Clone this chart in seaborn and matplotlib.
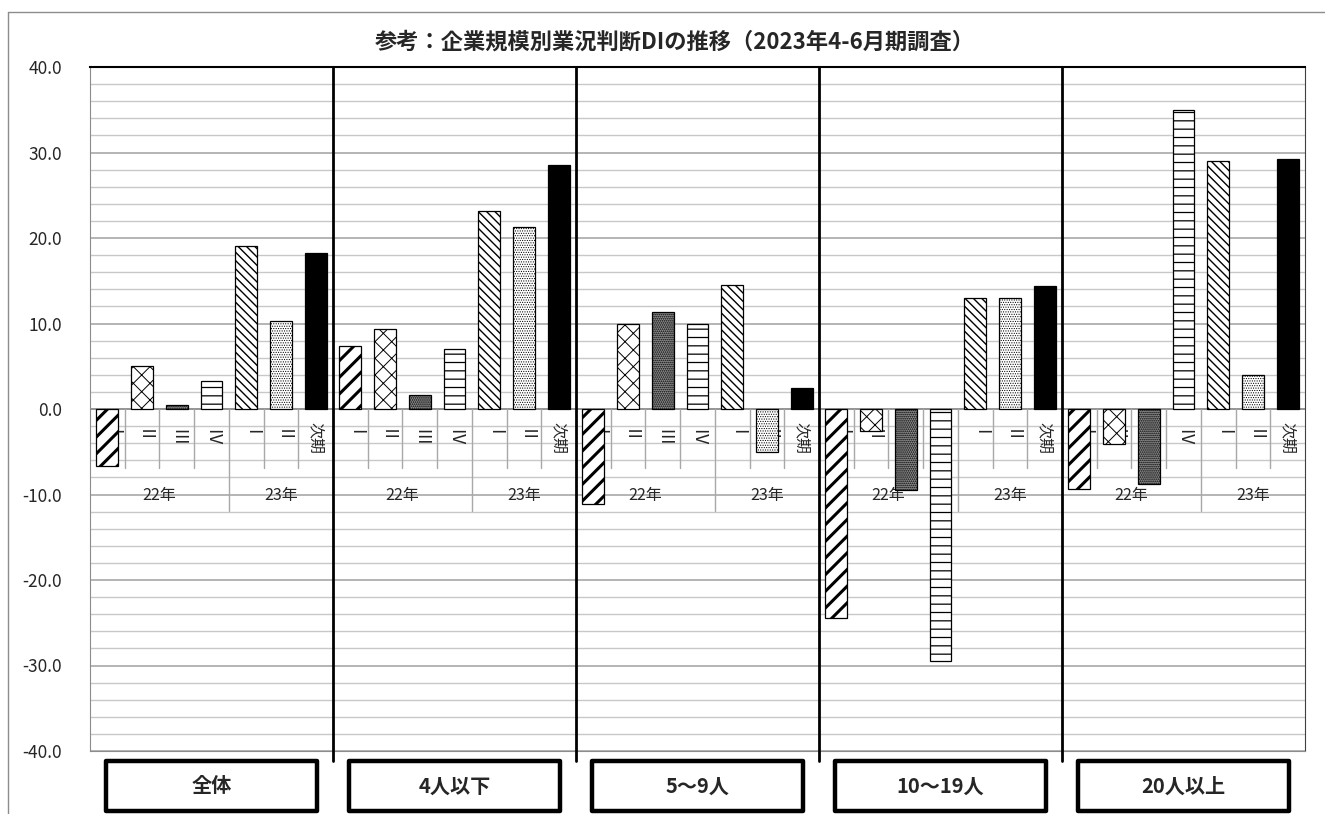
import numpy as np
import pandas as pd
import matplotlib.pyplot as plt
import seaborn as sns
from matplotlib.ticker import MultipleLocator, FuncFormatter
from matplotlib.patches import Rectangle
from matplotlib.lines import Line2D
from matplotlib.transforms import blended_transform_factory

# DATA
groups = ['全体', '4人以下', '5〜9人', '10〜19人', '20人以上']
periods = ['22Ⅰ', '22Ⅱ', '22Ⅲ', '22Ⅳ', '23Ⅰ', '23Ⅱ', '次期']
period_labels = ['Ⅰ', 'Ⅱ', 'Ⅲ', 'Ⅳ', 'Ⅰ', 'Ⅱ', '次期']
years = ['22年', '23年']

di_zentai = [-6.7, 5.0, 0.5, 3.3, 19.1, 10.3, 18.3]
di_4_ika = [7.4, 9.3, 1.6, 7.0, 23.2, 21.3, 28.5]
di_5_9 = [-11.1, 10.0, 11.3, 9.9, 14.5, -5.0, 2.5]
di_10_19 = [-24.5, -2.6, -9.5, -29.5, 13.0, 13.0, 14.4]
di_20_ijo = [-9.3, -4.1, -8.8, 35.0, 29.0, 4.0, 29.2]

all_di = [di_zentai, di_4_ika, di_5_9, di_10_19, di_20_ijo]

rows = []
for gi, g in enumerate(groups):
    for pi, p in enumerate(periods):
        rows.append({'group': g, 'period': p, 'pos': gi * len(periods) + pi, 'di': all_di[gi][pi]})
df = pd.DataFrame(rows)

# styles
face = {'22Ⅰ': 'white', '22Ⅱ': 'white', '22Ⅲ': '#8f8f8f', '22Ⅳ': 'white',
        '23Ⅰ': 'white', '23Ⅱ': 'white', '次期': 'black'}
hatch = {'22Ⅰ': '//', '22Ⅱ': 'xx', '22Ⅲ': '........', '22Ⅳ': '--',
         '23Ⅰ': '\\\\\\\\', '23Ⅱ': '.......', '次期': None}
hatch_lw = {'22Ⅰ': 2.2, '22Ⅱ': 0.7, '22Ⅲ': 0.8, '22Ⅳ': 0.9,
            '23Ⅰ': 1.0, '23Ⅱ': 0.5, '次期': 1.0}

W, H = 1325, 814
sns.set_style('white')
plt.rcParams['font.family'] = ['Noto Sans CJK JP', 'DejaVu Sans']
plt.rcParams['axes.unicode_minus'] = False

fig = plt.figure(figsize=(W / 100, H / 100), dpi=100)
ax = fig.add_axes([90 / W, 1 - 751 / H, (1305 - 90) / W, (751 - 67) / H])

sns.barplot(data=df, x='pos', y='di', hue='period', hue_order=periods, palette=face,
            dodge=False, width=0.63, edgecolor='black', linewidth=0.9, saturation=1,
            legend=False, ax=ax, zorder=3)

for cont, p in zip(ax.containers, periods):
    for bar in cont:
        if hatch[p]:
            bar.set_hatch(hatch[p])
        if hasattr(bar, 'set_hatch_linewidth'):
            bar.set_hatch_linewidth(hatch_lw[p])

n = len(periods)
ax.set_xlim(-0.5, len(groups) * n - 0.5)
ax.set_ylim(-40, 40)
ax.yaxis.set_major_locator(MultipleLocator(10))
ax.yaxis.set_minor_locator(MultipleLocator(2))
ax.yaxis.set_major_formatter(FuncFormatter(lambda v, _: f'{v:.1f}'))
ax.set_xticks([])
ax.set_xlabel('')
ax.set_ylabel('')
ax.tick_params(axis='y', which='major', length=6, color='#8c8c8c', pad=14, labelsize=12.5)
ax.tick_params(axis='y', which='minor', length=0)
ax.set_axisbelow(True)
ax.grid(which='minor', axis='y', color='#c8c8c8', lw=1)
ax.grid(which='major', axis='y', color='#a0a0a0', lw=1.1)
ax.axhline(0, color='#909090', lw=1.2, zorder=1)
for side in ['left', 'bottom']:
    ax.spines[side].set_color('#8c8c8c')
ax.spines['top'].set_color('black')
ax.spines['right'].set_color('#404040')
ax.spines['top'].set_linewidth(1.5)

# category table under zero line
for gi in range(len(groups)):
    base = gi * n
    for k in range(1, n):
        low = -11.9 if k == 4 else -6.9
        ax.plot([base + k - 0.5] * 2, [0, low], color='#a8a8a8', lw=1, zorder=1)
    for pi, lab in enumerate(period_labels):
        ax.text(base + pi, -3.4, lab, rotation=270, ha='center', va='center',
                fontsize=12.5 if lab != '次期' else 11.5, zorder=2)
    ax.text(base + 1.5, -10.1, years[0], ha='center', va='center', fontsize=11.5, zorder=2)
    ax.text(base + 5, -10.1, years[1], ha='center', va='center', fontsize=11.5, zorder=2)
    if gi > 0:
        ax.plot([base - 0.5] * 2, [-41.2, 40], color='black', lw=2, zorder=4, clip_on=False)

# group name boxes
tr = blended_transform_factory(ax.transData, fig.transFigure)
box_w = 6.1
for gi, g in enumerate(groups):
    cx = gi * n + 3
    fig.add_artist(Rectangle((cx - box_w / 2, 1 - 811 / H), box_w, 50 / H, transform=tr,
                             facecolor='white', edgecolor='black', lw=3.2, joinstyle='round'))
    fig.text(cx, 1 - 786 / H, g, transform=tr, ha='center', va='center',
             fontsize=14.5, fontweight='bold')

# title and outer frame
fig.text(675 / W, 1 - 42 / H, '参考：企業規模別業況判断DIの推移（2023年4-6月期調査）',
         ha='center', va='center', fontsize=16, fontweight='bold')
fig.add_artist(Line2D([8 / W, 8 / W], [0, 1 - 12 / H], color='#8c8c8c', lw=1))
fig.add_artist(Line2D([8 / W, 1], [1 - 12 / H, 1 - 12 / H], color='#8c8c8c', lw=1))

fig.savefig('out.png', dpi=100)
